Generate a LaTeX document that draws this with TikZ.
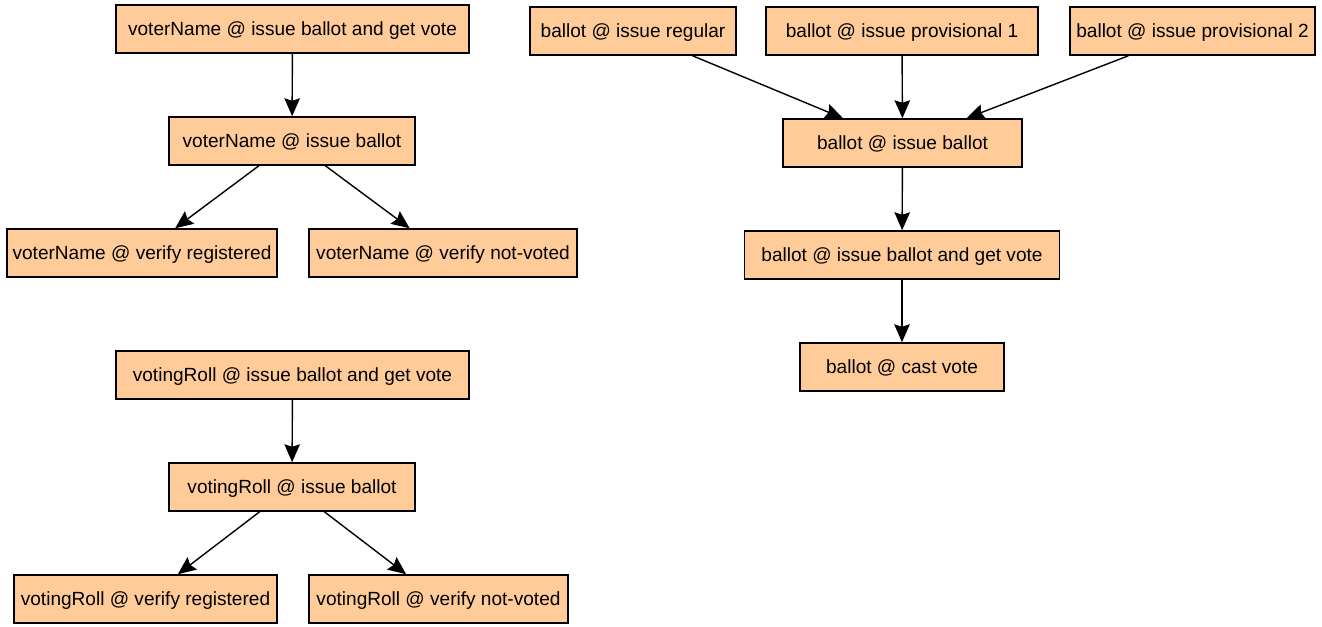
\documentclass[tikz,border=0pt]{standalone}
\usepackage{fontspec}
\setmainfont{Liberation Sans}
\usepackage{tikz}
\usetikzlibrary{arrows.meta,positioning}
\usepackage{xcolor}
\definecolor{peach}{HTML}{FFCC99}
\tikzset{
  box/.style={draw=black, fill=peach, line width=0.85pt, align=center, inner xsep=2pt, text depth=0pt, minimum height=9.6mm, font=\fontsize{10.85}{13}\selectfont},
  arrow/.style={-{Stealth[length=3.6mm,width=3.1mm,inset=0.5mm]}, line width=0.8pt}
}

\begin{document}
\begin{tikzpicture}
\useasboundingbox (0,0) rectangle (26.44,-12.52);
% ---- left, top: voterName ----
\node[box, minimum width=7.06cm] (vnGet) at (5.85,-0.58) {voterName @ issue ballot and get vote};
\node[box, minimum width=4.92cm] (vnIssue) at (5.84,-2.82) {voterName @ issue ballot};
\node[box, minimum width=5.40cm] (vnReg) at (2.84,-5.06) {voterName @ verify registered};
\node[box, minimum width=5.36cm] (vnNotVoted) at (8.86,-5.06) {voterName @ verify not-voted};
\draw[arrow] (vnGet) -- (vnIssue);
\draw[arrow] (vnIssue) -- (vnReg);
\draw[arrow] (vnIssue) -- (vnNotVoted);
% ---- left, bottom: votingRoll ----
\node[box, minimum width=7.06cm] (vrGet) at (5.85,-7.50) {votingRoll @ issue ballot and get vote};
\node[box, minimum width=4.92cm] (vrIssue) at (5.84,-9.74) {votingRoll @ issue ballot};
\node[box, minimum width=5.26cm] (vrReg) at (2.91,-11.98) {votingRoll @ verify registered};
\node[box, minimum width=5.18cm] (vrNotVoted) at (8.77,-11.98) {votingRoll @ verify not-voted};
\draw[arrow] (vrGet) -- (vrIssue);
\draw[arrow] (vrIssue) -- (vrReg);
\draw[arrow] (vrIssue) -- (vrNotVoted);
% ---- right: ballot ----
\node[box, minimum width=4.12cm] (bRegular) at (12.66,-0.62) {ballot @ issue regular};
\node[box, minimum width=5.44cm] (bProvOne) at (18.04,-0.62) {ballot @ issue provisional 1};
\node[box, minimum width=4.90cm] (bProvTwo) at (23.85,-0.62) {ballot @ issue provisional 2};
\node[box, minimum width=4.78cm] (bIssue) at (18.05,-2.86) {ballot @ issue ballot};
\node[box, minimum width=6.30cm] (bGet) at (18.04,-5.10) {ballot @ issue ballot and get vote};
\node[box, minimum width=4.08cm] (bCast) at (18.04,-7.34) {ballot @ cast vote};
\draw[arrow] (bRegular) -- (bIssue);
\draw[arrow] (bProvOne) -- (bIssue);
\draw[arrow] (bProvTwo) -- (bIssue);
\draw[arrow] (bIssue) -- (bGet);
\draw[arrow] (bGet) -- (bCast);
\end{tikzpicture}
\end{document}
